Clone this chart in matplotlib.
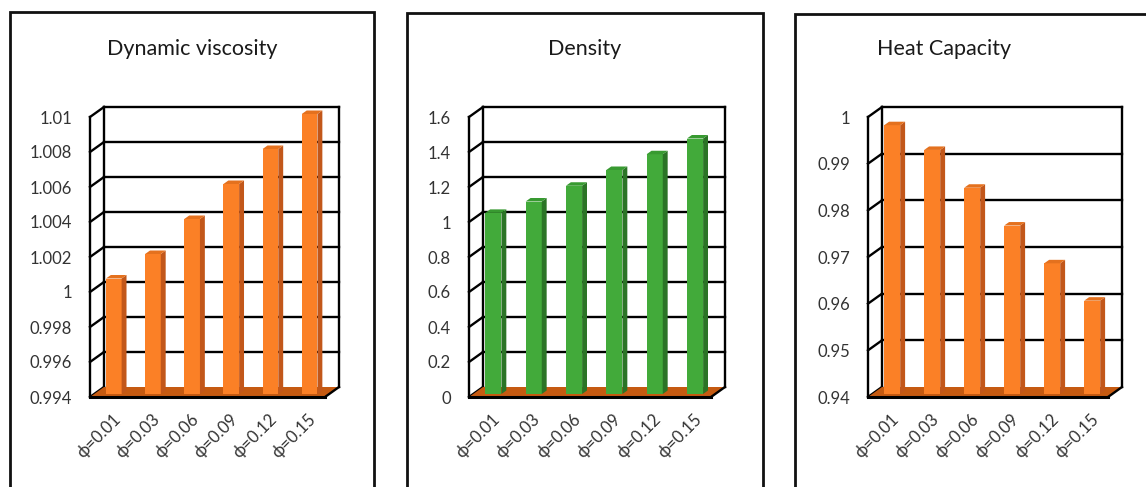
import matplotlib
matplotlib.use("Agg")
import matplotlib.pyplot as plt
import numpy as np
from matplotlib.patches import Polygon, Rectangle

plt.rcParams['font.family'] = ['Lato', 'DejaVu Sans']

# Data
categories = ['ϕ=0.01', 'ϕ=0.03', 'ϕ=0.06', 'ϕ=0.09', 'ϕ=0.12', 'ϕ=0.15']
viscosity = [1.0006, 1.002, 1.004, 1.006, 1.008, 1.01]
density = [1.035, 1.10, 1.19, 1.28, 1.37, 1.46]
heat_capacity = [0.9976, 0.9923, 0.9842, 0.9761, 0.968, 0.960]

visc_ticks = [0.994, 0.996, 0.998, 1.0, 1.002, 1.004, 1.006, 1.008, 1.01]
dens_ticks = [0, 0.2, 0.4, 0.6, 0.8, 1.0, 1.2, 1.4, 1.6]
heat_ticks = [0.94, 0.95, 0.96, 0.97, 0.98, 0.99, 1.0]

titles = ['Dynamic viscosity', 'Density', 'Heat Capacity']

W, H = 1146, 487
DX, DY = 14, 10          # depth of the 3-D box in pixels
ZF, ZB = 0.3, 0.65       # front / back depth fraction of the columns
FLOOR = '#C55A11'
ORANGE = ('#FB8026', '#C2571A', '#E4711E')
GREEN = ('#42AA3A', '#2B7426', '#389A31')
TXT = '#333333'

fig = plt.figure(figsize=(W / 100, H / 100), dpi=100)


def add_px_axes(x0, x1, ytop, ybot):
    return fig.add_axes([x0 / W, 1 - ybot / H, (x1 - x0) / W, (ybot - ytop) / H])


def frame(x0, x1, ytop):
    # outer chart border (runs off the bottom of the image)
    fig.add_artist(Rectangle((x0 / W, -0.2), (x1 - x0) / W, 1.2 - ytop / H,
                             transform=fig.transFigure, fill=False,
                             ec='#111111', lw=2.0))


def draw_panel(ax, values, ticks, colors, wpx, hpx):
    ymin, ymax = ticks[0], ticks[-1]
    n = len(values)
    ax.set_xlim(0, n)
    ax.set_ylim(ymin, ymax)
    ddx = DX * n / wpx
    ddy = DY * (ymax - ymin) / hpx
    kw = dict(color='black', lw=1.7, clip_on=False, solid_capstyle='projecting')

    # back wall + left side wall
    for v in ticks[1:]:
        ax.plot([ddx, n + ddx], [v + ddy, v + ddy], zorder=1, **kw)
    for v in ticks:
        ax.plot([0, ddx], [v, v + ddy], zorder=1, **kw)
    ax.plot([ddx, ddx], [ymin + ddy, ymax + ddy], zorder=1, **kw)
    ax.plot([n + ddx, n + ddx], [ymin + ddy, ymax + ddy], zorder=1, **kw)
    ax.plot([0, 0], [ymin, ymax], zorder=4, **kw)

    # floor
    ax.add_patch(Polygon([(0, ymin), (n, ymin), (n + ddx, ymin + ddy), (ddx, ymin + ddy)],
                         closed=True, fc=FLOOR, ec='none', zorder=2, clip_on=False))
    ax.plot([0, n], [ymin, ymin], zorder=4, **dict(kw, lw=2.2))
    ax.plot([n, n + ddx], [ymin, ymin + ddy], zorder=4, **kw)

    # columns
    face, side, top = colors
    x = np.arange(n) + 0.5
    vals = np.array(values)
    w = 0.2
    ax.bar(x + ZF * ddx, vals - ymin, bottom=ymin + ZF * ddy, width=2 * w,
           color=face, zorder=3, clip_on=False)
    for xi, v in zip(x, vals):
        xr = xi + w
        ax.add_patch(Polygon([(xr + ZF * ddx, ymin + ZF * ddy), (xr + ZF * ddx, v + ZF * ddy),
                              (xr + ZB * ddx, v + ZB * ddy), (xr + ZB * ddx, ymin + ZB * ddy)],
                             closed=True, fc=side, ec='none', zorder=3, clip_on=False))
        ax.add_patch(Polygon([(xi - w + ZF * ddx, v + ZF * ddy), (xr + ZF * ddx, v + ZF * ddy),
                              (xr + ZB * ddx, v + ZB * ddy), (xi - w + ZB * ddx, v + ZB * ddy)],
                             closed=True, fc=top, ec='none', zorder=3, clip_on=False))

    # axis labels
    for s in ax.spines.values():
        s.set_visible(False)
    ax.set_yticks(ticks, [f'{round(t, 3):g}' for t in ticks])
    ax.set_xticks(x + ZF * ddx - 0.04, categories)
    ax.tick_params(axis='y', length=0, pad=13, labelsize=12, labelcolor=TXT)
    ax.tick_params(axis='x', length=0, pad=10, labelsize=12, labelcolor=TXT)
    for lab in ax.get_xticklabels():
        lab.set_rotation(45)
        lab.set_ha('right')
        lab.set_rotation_mode('anchor')
    ax.patch.set_visible(False)


# borders and titles
frame(10, 374, 12)
frame(407, 763, 13)
frame(795, 1160, 14)
for cx, t in zip([192, 585, 944], titles):
    fig.text(cx / W, 1 - 49 / H, t, ha='center', va='center', fontsize=15.5, color='#1a1a1a')

panels = [
    (90, 325, viscosity, visc_ticks, ORANGE),
    (469, 711, density, dens_ticks, GREEN),
    (868, 1108, heat_capacity, heat_ticks, ORANGE),
]
for x0, x1, vals, ticks, cols in panels:
    ax = add_px_axes(x0, x1, 117, 397)
    draw_panel(ax, vals, ticks, cols, x1 - x0, 397 - 117)

fig.savefig('out.png', dpi=100, facecolor='white')
